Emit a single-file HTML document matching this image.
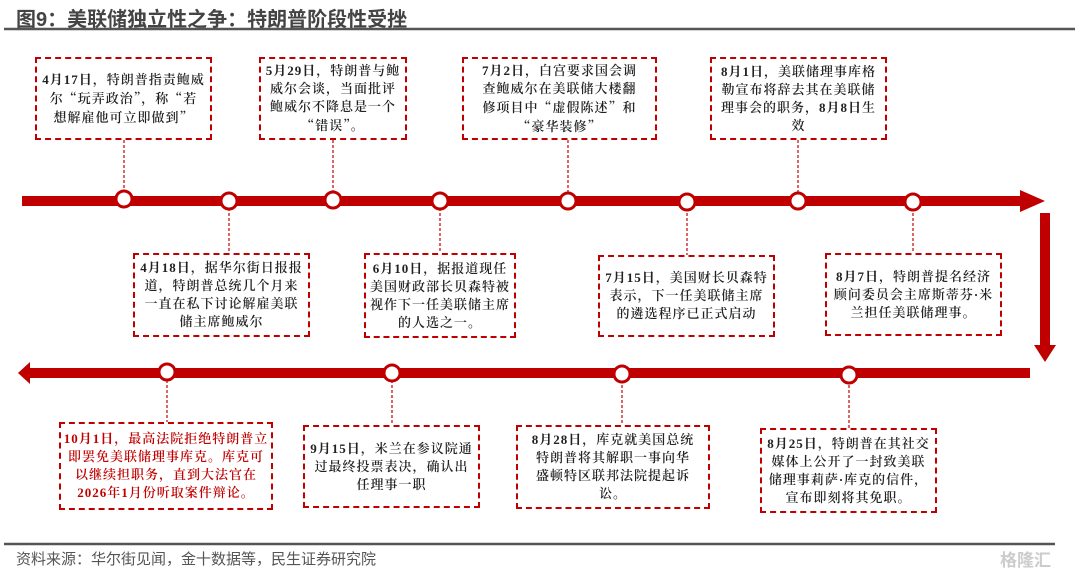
<!DOCTYPE html>
<html><head><meta charset="utf-8"><style>
*{margin:0;padding:0;box-sizing:border-box}
body{width:1080px;height:571px;background:#fff;position:relative;overflow:hidden;font-family:"Liberation Serif","Noto Serif CJK SC",serif}
.t{position:absolute;left:16px;top:3px;font:bold 20px "Liberation Sans","Noto Sans CJK SC",sans-serif;color:#444}
.b{position:absolute;border:2px dashed #c00000;display:flex;align-items:center;justify-content:center;text-align:center;font-size:13px;line-height:18px;letter-spacing:1px;color:#222;font-weight:600}
.b b{font-weight:bold}
.q{font-family:"Noto Serif CJK SC",serif}
.r{color:#c00000}
.f{position:absolute;left:16px;top:548px;font:15px "Liberation Sans","Noto Sans CJK SC",sans-serif;color:#555}
.w{position:absolute;left:1000px;top:546px;font:bold 17px "Liberation Sans","Noto Sans CJK SC",sans-serif;color:#ccc}
</style></head><body>
<div class="t">图9：美联储独立性之争：特朗普阶段性受挫</div>
<svg width="1080" height="571" style="position:absolute;left:0;top:0">
<line x1="4" y1="29" x2="1075" y2="29" stroke="#555" stroke-width="2.5"/>
<line x1="4" y1="544" x2="1055" y2="544" stroke="#555" stroke-width="2.5"/>
<g stroke="#c00000" stroke-width="1.2" stroke-dasharray="3,2">
<line x1="124" y1="140" x2="124" y2="193"/><line x1="229" y1="208" x2="229" y2="253"/>
<line x1="333" y1="140" x2="333" y2="193"/><line x1="440" y1="208" x2="440" y2="253"/>
<line x1="568" y1="140" x2="568" y2="193"/><line x1="687" y1="208" x2="687" y2="255"/>
<line x1="798" y1="140" x2="798" y2="193"/><line x1="913" y1="208" x2="913" y2="253"/>
<line x1="167" y1="380" x2="167" y2="422"/><line x1="392" y1="380" x2="392" y2="425"/>
<line x1="622" y1="380" x2="622" y2="425"/><line x1="849" y1="380" x2="849" y2="428"/>
</g>
<rect x="22" y="196" width="1010" height="10" fill="#c00000"/>
<polygon points="1020,190 1045,201 1020,212" fill="#c00000"/>
<rect x="1040" y="213" width="10" height="132" fill="#c00000"/>
<polygon points="1034,345 1056,345 1045,362" fill="#c00000"/>
<rect x="30" y="368" width="1000" height="10" fill="#c00000"/>
<polygon points="18,373 30,362 30,384" fill="#c00000"/>
<g fill="#fff" stroke="#c00000" stroke-width="3">
<circle cx="124" cy="199" r="8"/><circle cx="229" cy="201" r="8"/><circle cx="333" cy="200" r="8"/><circle cx="440" cy="201" r="8"/>
<circle cx="568" cy="201" r="8"/><circle cx="687" cy="202" r="8"/><circle cx="798" cy="201" r="8"/><circle cx="913" cy="202" r="8"/>
<circle cx="167" cy="372" r="8"/><circle cx="392" cy="373" r="8"/><circle cx="622" cy="374" r="8"/><circle cx="849" cy="375" r="8"/>
</g>
</svg>
<div class="b" style="left:35px;top:57px;width:177px;height:83px"><div><b>4月17日</b>，特朗普指责鲍威<br>尔<span class="q">“</span>玩弄政治<span class="q">”</span>，称<span class="q">“</span>若<br>想解雇他可立即做到<span class="q">”</span></div></div>
<div class="b" style="left:259px;top:57px;width:148px;height:83px"><div><b>5月29日</b>，特朗普与鲍<br>威尔会谈，当面批评<br>鲍威尔不降息是一个<br><span class="q">“</span>错误<span class="q">”</span>。</div></div>
<div class="b" style="left:462px;top:57px;width:195px;height:83px"><div><b>7月2日</b>，白宫要求国会调<br>查鲍威尔在美联储大楼翻<br>修项目中<span class="q">“</span>虚假陈述<span class="q">”</span>和<br><span class="q">“</span>豪华装修<span class="q">”</span></div></div>
<div class="b" style="left:710px;top:57px;width:177px;height:83px"><div><b>8月1日</b>，美联储理事库格<br>勒宣布将辞去其在美联储<br>理事会的职务，<b>8月8日</b>生<br>效</div></div>
<div class="b" style="left:133px;top:253px;width:177px;height:84px"><div><b>4月18日</b>，据华尔街日报报<br>道，特朗普总统几个月来<br>一直在私下讨论解雇美联<br>储主席鲍威尔</div></div>
<div class="b" style="left:364px;top:253px;width:152px;height:85px"><div><b>6月10日</b>，据报道现任<br>美国财政部长贝森特被<br>视作下一任美联储主席<br>的人选之一。</div></div>
<div class="b" style="left:598px;top:255px;width:177px;height:82px"><div><b>7月15日</b>，美国财长贝森特<br>表示，下一任美联储主席<br>的遴选程序已正式启动</div></div>
<div class="b" style="left:825px;top:253px;width:177px;height:83px"><div><b>8月7日</b>，特朗普提名经济<br>顾问委员会主席斯蒂芬·米<br>兰担任美联储理事。</div></div>
<div class="b r" style="left:59px;top:422px;width:214px;height:88px"><div><b>10月1日</b>，最高法院拒绝特朗普立<br>即罢免美联储理事库克。库克可<br>以继续担职务，直到大法官在<br><b>2026</b>年<b>1</b>月份听取案件辩论。</div></div>
<div class="b" style="left:303px;top:425px;width:177px;height:83px"><div><b>9月15日</b>，米兰在参议院通<br>过最终投票表决，确认出<br>任理事一职</div></div>
<div class="b" style="left:516px;top:425px;width:194px;height:84px"><div><b>8月28日</b>，库克就美国总统<br>特朗普将其解职一事向华<br>盛顿特区联邦法院提起诉<br>讼。</div></div>
<div class="b" style="left:760px;top:428px;width:177px;height:85px"><div><b>8月25日</b>，特朗普在其社交<br>媒体上公开了一封致美联<br>储理事莉萨·库克的信件，<br>宣布即刻将其免职。</div></div>
<div class="f">资料来源：华尔街见闻，金十数据等，民生证券研究院</div>
<div class="w">格隆汇</div>
</body></html>
